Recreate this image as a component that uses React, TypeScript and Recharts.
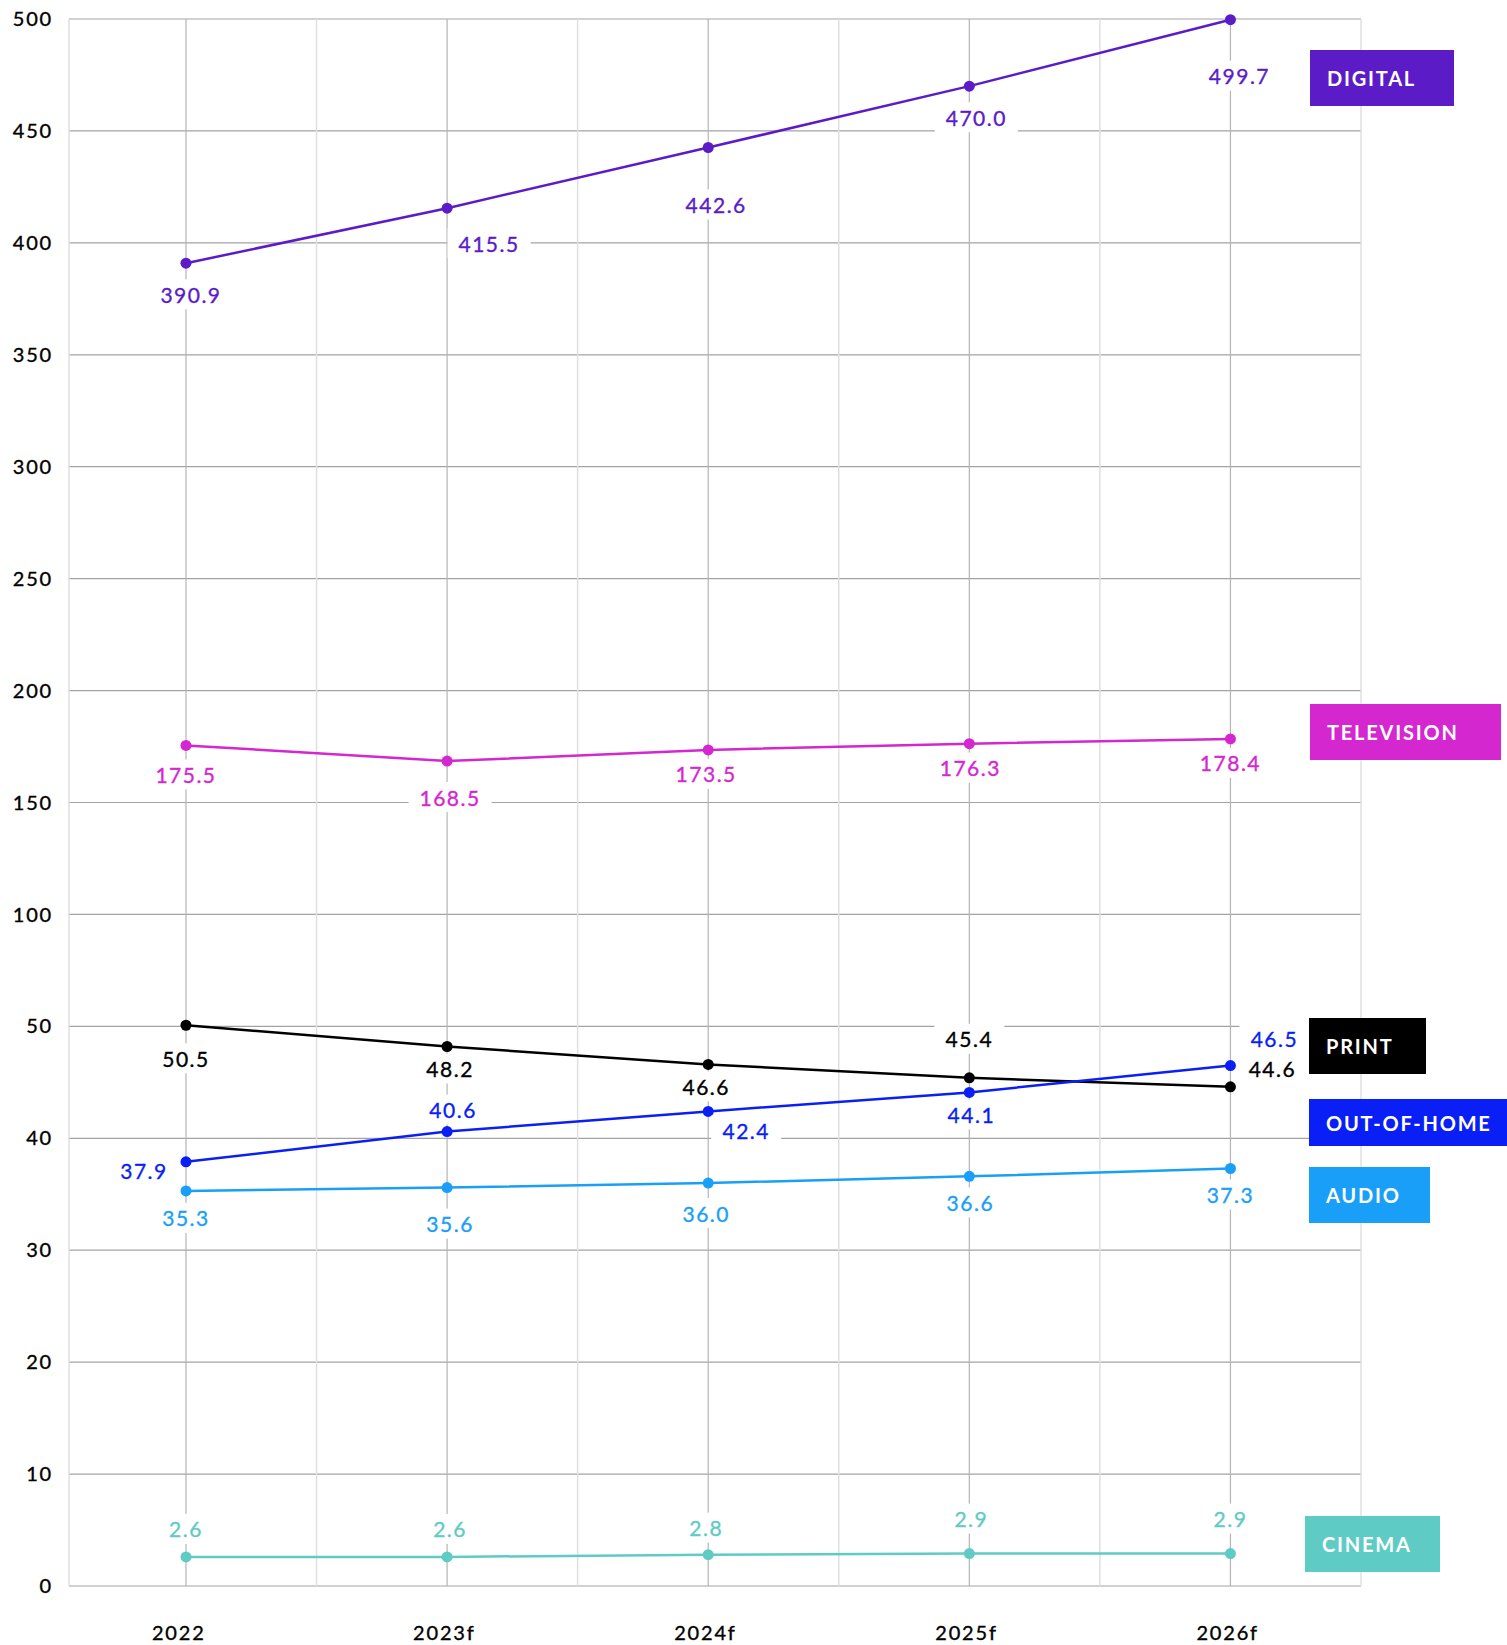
import { CartesianGrid, LabelList, Line, LineChart, ReferenceLine, XAxis, YAxis } from "recharts";

const years = ["2022", "2023f", "2024f", "2025f", "2026f"];
const digital = [390.9, 415.5, 442.6, 470.0, 499.7];
const television = [175.5, 168.5, 173.5, 176.3, 178.4];
const print = [50.5, 48.2, 46.6, 45.4, 44.6];
const outOfHome = [37.9, 40.6, 42.4, 44.1, 46.5];
const audio = [35.3, 35.6, 36.0, 36.6, 37.3];
const cinema = [2.6, 2.6, 2.8, 2.9, 2.9];
const yTickValues = [0, 10, 20, 30, 40, 50, 100, 150, 200, 250, 300, 350, 400, 450, 500];

const FONT = "Lato, 'Noto Sans', sans-serif";

// broken axis: 0-50 linear in steps of 10, then 50-500 in steps of 50 at the same spacing
const toAxis = (v: number) => (v <= 50 ? v : 50 + (v - 50) / 5);
const fromAxis = (t: number) => (t <= 50 ? t : 50 + (t - 50) * 5);

const series = [
  { key: "digital", name: "DIGITAL", values: digital, color: "#5b1cc8" },
  { key: "television", name: "TELEVISION", values: television, color: "#d427d0" },
  { key: "print", name: "PRINT", values: print, color: "#000000" },
  { key: "outOfHome", name: "OUT-OF-HOME", values: outOfHome, color: "#0a1ff5" },
  { key: "audio", name: "AUDIO", values: audio, color: "#1a9ff8" },
  { key: "cinema", name: "CINEMA", values: cinema, color: "#5fcbc5" },
];

// label placement relative to each point (px)
const labelOffsets: Record<string, [number, number][]> = {
  digital: [[5, 31], [42, 35], [8, 57], [7, 31], [9, 56]],
  television: [[0, 29], [3, 36], [-2, 24], [1, 24], [0, 24]],
  print: [[0, 33], [3, 22], [-2, 22], [0, -39], [42, -18]],
  outOfHome: [[-42, 9], [6, -22], [38, 19], [2, 22], [44, -27]],
  audio: [[0, 27], [3, 36], [-2, 30], [1, 26], [0, 26]],
  cinema: [[0, -28], [3, -28], [-2, -27], [2, -35], [0, -35]],
};

const legendBoxes: Record<string, { left: number; top: number; width: number; height: number }> = {
  digital: { left: 1310, top: 50, width: 144, height: 56 },
  television: { left: 1310, top: 704, width: 191, height: 56 },
  print: { left: 1309, top: 1018, width: 117, height: 56 },
  outOfHome: { left: 1309, top: 1099, width: 198, height: 47 },
  audio: { left: 1309, top: 1167, width: 121, height: 56 },
  cinema: { left: 1305, top: 1516, width: 135, height: 56 },
};

const data = years.map((year, i) => {
  const row: Record<string, number | string> = { x: i, year };
  series.forEach((s) => {
    row[s.key] = toAxis(s.values[i]);
  });
  return row;
});

function makeLabel(key: string, values: number[], color: string) {
  return (props: any) => {
    const vb = props.viewBox || {};
    const x = props.x ?? vb.x;
    const y = props.y ?? vb.y;
    const index = props.index;
    if (x == null || y == null || index == null) return null;
    const [dx, dy] = labelOffsets[key][index];
    const text = values[index].toFixed(1);
    const w = text.length * 13 + 18;
    const cx = x + dx;
    const cy = y + dy;
    return (
      <g key={`${key}-${index}`}>
        <rect x={cx - w / 2} y={cy - 15} width={w} height={30} fill="#ffffff" />
        <text
          x={cx}
          y={cy}
          textAnchor="middle"
          dominantBaseline="central"
          fill={color}
          stroke={color}
          strokeWidth={0.35}
          fontSize={21}
          letterSpacing={1.5}
          fontFamily={FONT}
        >
          {text}
        </text>
      </g>
    );
  };
}

function YearTick(props: any) {
  const { x, y, payload } = props;
  return (
    <text
      x={x - 34}
      y={y + 54}
      textAnchor="start"
      fill="#000"
      stroke="#000"
      strokeWidth={0.35}
      fontSize={20}
      fontFamily={FONT}
      letterSpacing={1.8}
    >
      {years[payload.value]}
    </text>
  );
}

export default function App() {
  return (
    <div style={{ position: "absolute", left: 0, top: 0, width: 1507, height: 1645, background: "#fff", fontFamily: FONT }}>
      <LineChart width={1507} height={1645} data={data} margin={{ top: 19, right: 146, bottom: 0, left: 0 }}>
        <CartesianGrid vertical={false} stroke="#a3a3a3" strokeWidth={1.2} />
        <XAxis
          type="number"
          dataKey="x"
          domain={[-0.448, 4.5]}
          ticks={[0, 1, 2, 3, 4]}
          height={59}
          axisLine={false}
          tickLine={false}
          tickSize={0}
          tickMargin={0}
          tick={<YearTick />}
        />
        <YAxis
          type="number"
          domain={[0, 140]}
          ticks={yTickValues.map(toAxis)}
          width={69}
          axisLine={{ stroke: "#dedede", strokeWidth: 1.5 }}
          tickLine={false}
          tickSize={0}
          tickMargin={16}
          tickFormatter={(t: number) => String(Math.round(fromAxis(t)))}
          tick={{ fill: "#000", stroke: "#000", strokeWidth: 0.35, fontSize: 20, fontFamily: FONT, letterSpacing: 1.8 }}
        />
        {[0.5, 1.5, 2.5, 3.5, 4.5].map((v) => (
          <ReferenceLine key={`l${v}`} x={v} stroke="#e0e0e0" strokeWidth={1.5} />
        ))}
        {[0, 1, 2, 3, 4].map((v) => (
          <ReferenceLine key={`d${v}`} x={v} stroke="#b4b4b4" strokeWidth={1.2} />
        ))}
        {series.map((s) => (
          <Line
            key={s.key}
            dataKey={s.key}
            stroke={s.color}
            strokeWidth={2.5}
            dot={{ r: 5.5, fill: s.color, stroke: s.color, strokeWidth: 0 }}
            activeDot={false}
            isAnimationActive={false}
          >
            <LabelList dataKey={s.key} content={makeLabel(s.key, s.values, s.color)} />
          </Line>
        ))}
      </LineChart>
      {series.map((s) => {
        const b = legendBoxes[s.key];
        return (
          <div
            key={s.key}
            style={{
              position: "absolute",
              left: b.left,
              top: b.top,
              width: b.width,
              height: b.height,
              background: s.color,
              color: "#fff",
              fontWeight: 700,
              fontSize: 20,
              letterSpacing: 1.8,
              display: "flex",
              alignItems: "center",
              paddingLeft: 17,
              boxSizing: "border-box",
              whiteSpace: "nowrap",
              overflow: "hidden",
            }}
          >
            {s.name}
          </div>
        );
      })}
    </div>
  );
}
